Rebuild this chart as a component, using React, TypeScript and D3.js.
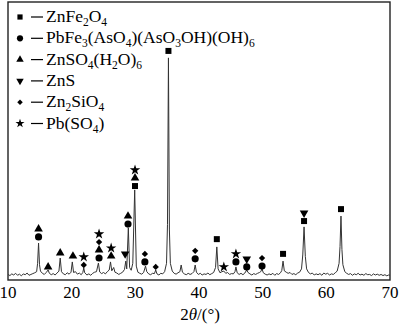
import React from "react";
import * as d3 from "d3";

// XRD trace: [2θ (°), intensity (a.u.)]
const trace: [number, number][] = [
  [10.0, 20], [10.3, 16], [10.6, 22], [10.9, 18], [11.2, 24], [11.5, 17], [11.8, 21], [12.1, 15], [12.4, 22], [12.7, 19],
  [13.0, 25], [13.3, 17], [13.6, 20], [13.9, 23], [14.2, 26], [14.5, 30], [14.65, 60], [14.8, 133], [14.95, 55], [15.1, 32],
  [15.4, 24], [15.7, 20], [16.0, 27], [16.3, 36], [16.5, 24], [16.8, 19], [17.1, 23], [17.4, 18], [17.7, 25], [18.0, 32],
  [18.2, 79], [18.4, 30], [18.7, 22], [19.0, 19], [19.3, 26], [19.6, 21], [19.9, 28], [20.1, 65], [20.3, 27], [20.6, 30],
  [20.9, 21], [21.2, 25], [21.5, 19], [21.75, 27], [21.9, 43], [22.05, 26], [22.4, 18], [22.7, 22], [23.0, 17], [23.3, 24],
  [23.6, 28], [23.9, 30], [24.2, 61], [24.4, 29], [24.7, 23], [25.0, 27], [25.3, 22], [25.6, 30], [25.9, 36], [26.1, 65],
  [26.3, 33], [26.6, 45], [26.8, 28], [27.1, 25], [27.4, 20], [27.7, 24], [28.0, 28], [28.3, 38], [28.5, 68], [28.65, 40],
  [28.9, 187], [29.1, 45], [29.35, 35], [29.6, 60], [29.9, 324], [30.15, 50], [30.4, 28], [30.7, 24], [31.0, 21], [31.3, 27],
  [31.6, 50], [31.8, 30], [32.1, 22], [32.4, 19], [32.7, 24], [33.0, 23], [33.2, 36], [33.4, 22], [33.7, 18], [34.0, 24],
  [34.3, 22], [34.6, 30], [34.9, 60], [35.05, 200], [35.2, 799], [35.35, 180], [35.5, 60], [35.8, 32], [36.1, 24], [36.4, 21],
  [36.7, 26], [37.0, 30], [37.2, 54], [37.4, 28], [37.7, 22], [38.0, 19], [38.3, 24], [38.6, 20], [38.9, 23], [39.2, 30],
  [39.4, 54], [39.6, 28], [39.9, 20], [40.2, 24], [40.5, 18], [40.8, 22], [41.1, 20], [41.4, 25], [41.7, 19], [42.0, 23],
  [42.3, 27], [42.6, 45], [42.8, 119], [43.0, 40], [43.3, 26], [43.6, 30], [43.9, 32], [44.2, 24], [44.5, 27], [44.8, 20],
  [45.1, 23], [45.4, 22], [45.65, 30], [45.8, 47], [46.0, 26], [46.3, 20], [46.6, 24], [46.9, 19], [47.2, 25], [47.5, 36],
  [47.7, 27], [48.0, 22], [48.3, 18], [48.6, 23], [48.9, 20], [49.2, 24], [49.5, 27], [49.7, 30], [49.9, 40], [50.1, 26],
  [50.4, 21], [50.7, 18], [51.0, 22], [51.3, 19], [51.6, 24], [51.9, 17], [52.2, 23], [52.5, 20], [52.8, 26], [53.0, 34],
  [53.2, 68], [53.4, 33], [53.7, 28], [54.0, 24], [54.3, 27], [54.6, 20], [54.9, 23], [55.2, 19], [55.5, 25], [55.8, 28],
  [56.1, 40], [56.3, 90], [56.5, 191], [56.7, 85], [56.9, 40], [57.2, 27], [57.5, 22], [57.8, 25], [58.1, 18], [58.4, 22],
  [58.7, 19], [59.0, 23], [59.3, 17], [59.6, 25], [59.9, 21], [60.2, 24], [60.5, 18], [60.8, 22], [61.1, 20], [61.4, 26],
  [61.7, 32], [62.0, 60], [62.15, 120], [62.3, 230], [62.45, 110], [62.6, 55], [62.9, 30], [63.2, 24], [63.5, 20], [63.8, 23],
  [64.1, 17], [64.4, 22], [64.7, 19], [65.0, 24], [65.3, 18], [65.6, 21], [65.9, 17], [66.2, 23], [66.5, 19], [66.8, 20],
  [67.1, 16], [67.4, 22], [67.7, 18], [68.0, 21], [68.3, 17], [68.6, 20], [68.9, 16], [69.2, 19], [69.5, 15], [69.8, 18],
  [70.0, 17],
];

// phase keys: sq = ZnFe2O4, ci = PbFe3(AsO4)(AsO3OH)(OH)6, tu = ZnSO4(H2O)6, td = ZnS, di = Zn2SiO4, st = Pb(SO4)
const legendKeys = ["sq", "ci", "tu", "td", "di", "st"];
const legendLabels = [
  "ZnFe_2O_4",
  "PbFe_3(AsO_4)(AsO_3OH)(OH)_6",
  "ZnSO_4(H_2O)_6",
  "ZnS",
  "Zn_2SiO_4",
  "Pb(SO_4)",
];

// peak annotations: [2θ, intensity of lowest marker, markers bottom→top]
const annotations: [number, number, string[]][] = [
  [14.8, 155, ["ci", "tu"]],
  [16.3, 47, ["tu"]],
  [18.2, 97, ["tu"]],
  [20.2, 86, ["tu"]],
  [21.9, 54, ["di", "st"]],
  [24.3, 79, ["ci", "tu", "di", "st"]],
  [26.2, 86, ["tu", "st"]],
  [28.4, 94, ["td"]],
  [28.85, 201, ["ci", "tu"]],
  [29.95, 338, ["sq", "tu", "st"]],
  [31.5, 65, ["ci", "di"]],
  [33.2, 47, ["di"]],
  [35.2, 824, ["sq"]],
  [39.4, 76, ["ci", "di"]],
  [42.8, 147, ["sq"]],
  [43.9, 47, ["st"]],
  [45.8, 65, ["ci", "st"]],
  [47.5, 47, ["ci", "td"]],
  [49.9, 50, ["ci", "di"]],
  [53.2, 94, ["sq"]],
  [56.5, 212, ["sq", "td"]],
  [62.3, 255, ["sq"]],
];

const xTicks = [10, 20, 30, 40, 50, 60, 70];

const FONT = "Liberation Serif, Times New Roman, serif";

function Marker({ kind, x, y, s = 1 }: { kind: string; x: number; y: number; s?: number }) {
  let type: d3.SymbolType = d3.symbolSquare;
  let size = 36;
  let rot = 0;
  if (kind === "ci") { type = d3.symbolCircle; size = 40; }
  if (kind === "tu") { type = d3.symbolTriangle; size = 32; }
  if (kind === "td") { type = d3.symbolTriangle; size = 32; rot = 180; }
  if (kind === "di") { type = d3.symbolSquare; size = 20; rot = 45; }
  if (kind === "st") { type = d3.symbolStar; size = 34; }
  const d = d3.symbol().type(type).size(size * s)()!;
  return <path d={d} transform={`translate(${x},${y}) rotate(${rot})`} fill="#000" />;
}

function Formula({ text, x, y }: { text: string; x: number; y: number }) {
  const runs: [string, boolean][] = [];
  let buf = "";
  for (let i = 0; i < text.length; i++) {
    if (text[i] === "_") {
      if (buf) { runs.push([buf, false]); buf = ""; }
      runs.push([text[i + 1], true]);
      i++;
    } else buf += text[i];
  }
  if (buf) runs.push([buf, false]);
  let prevSub = false;
  return (
    <text x={x} y={y} style={{ fontFamily: FONT, fontSize: 17.5 }} fill="#000">
      {runs.map(([s, sub], i) => {
        const dy = sub === prevSub ? 0 : sub ? 4 : -4;
        prevSub = sub;
        return (
          <tspan key={i} dy={dy} style={sub ? { fontSize: 11.5 } : undefined}>{s}</tspan>
        );
      })}
    </text>
  );
}

export default function App() {
  const W = 400, H = 324;
  const left = 8, right = 390, top = 2, bottom = 280;
  const x = d3.scaleLinear().domain([10, 70]).range([left, right]);
  const y = d3.scaleLinear().domain([0, 1000]).range([bottom, top]);
  const line = d3.line<[number, number]>().x(d => x(d[0])).y(d => y(d[1]));

  return (
    <svg width={W} height={H} style={{ position: "absolute", left: 0, top: 0, background: "#fff" }}>
      <rect x={left} y={top} width={right - left} height={bottom - top} fill="none" stroke="#222" strokeWidth={1.4} />
      <path d={line(trace)!} fill="none" stroke="#333" strokeWidth={1} />
      {annotations.map(([a, base, ks], i) =>
        ks.map((kd, j) => <Marker key={`${i}-${j}`} kind={kd} x={x(a)} y={y(base) - j * 8} />)
      )}
      {xTicks.map(t => (
        <text key={t} x={x(t)} y={298} textAnchor="middle" style={{ fontFamily: FONT, fontSize: 17 }}>{t}</text>
      ))}
      <text x={200} y={320} textAnchor="middle" style={{ fontFamily: FONT, fontSize: 17 }}>
        2<tspan style={{ fontStyle: "italic" }}>θ</tspan>/(°)
      </text>
      {legendKeys.map((kd, i) => {
        const by = 22 + i * 21.3;
        return (
          <g key={kd}>
            <Marker kind={kd} x={20} y={by - 5} s={0.75} />
            <line x1={31} x2={43} y1={by - 5} y2={by - 5} stroke="#000" strokeWidth={1.2} />
            <Formula text={legendLabels[i]} x={46} y={by} />
          </g>
        );
      })}
    </svg>
  );
}
